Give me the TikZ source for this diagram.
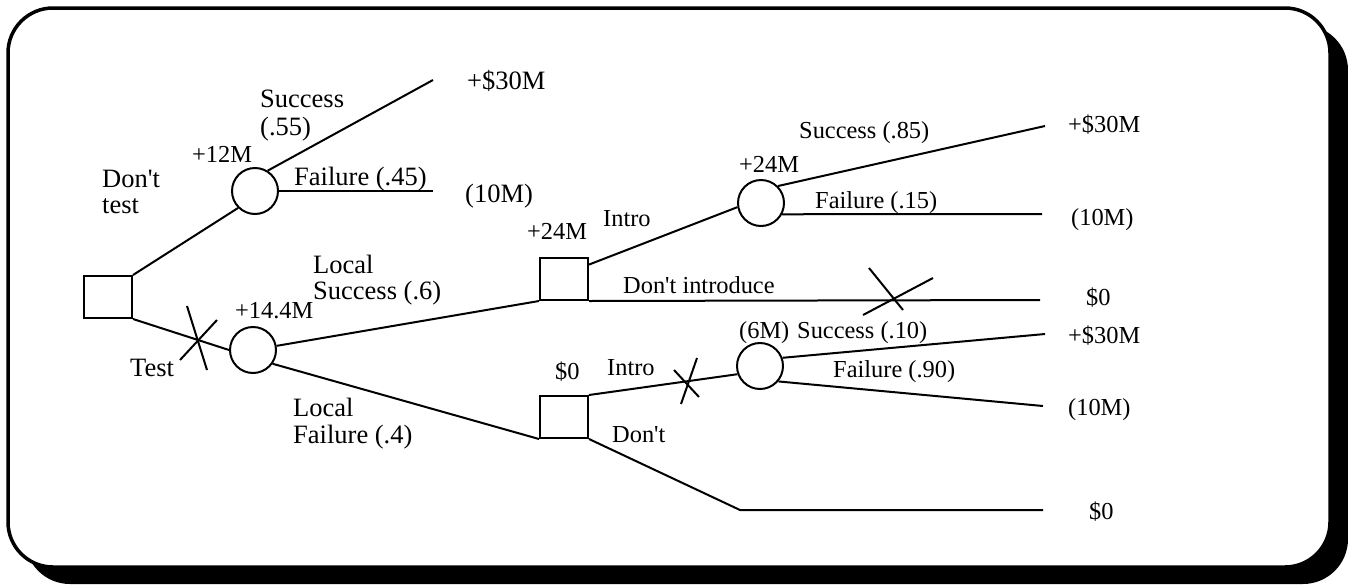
\documentclass[tikz,border=0pt]{standalone}
\usepackage{fontspec}
\setmainfont{Liberation Serif}
\newcommand{\apos}{\textquotesingle}
\begin{document}
\begin{tikzpicture}[x=1pt,y=-1pt,
  decision/.style={draw, rectangle, minimum width=48pt, minimum height=42pt, inner sep=0pt, line width=2pt},
  chance/.style={draw, circle, minimum size=46pt, inner sep=0pt, line width=2pt},
  lblL/.style={anchor=base west, inner sep=0pt, font=\fontsize{26.5}{30}\selectfont},
  lblS/.style={anchor=base west, inner sep=0pt, font=\fontsize{24.4}{28}\selectfont},
  branch/.style={line width=2pt},
  cross/.style={line width=2pt},
  frame/.style={line width=3.5pt, draw=black, fill=white, rounded corners=45pt},
  shadowbox/.style={fill=black, rounded corners=45pt}]
\useasboundingbox (0,0) rectangle (1348,584);
% frame with shadow
\fill[shadowbox] (25,25) rectangle (1348,584);
\draw[frame] (8,8) rectangle (1330,567);

% decision and chance nodes
\node[decision] (d1) at (108,297) {};
\node[chance] (c1) at (255,191) {};
\node[chance] (c2) at (253,350) {};
\node[decision] (d2) at (564,279) {};
\node[decision] (d3) at (564,417) {};
\node[chance] (c3) at (761,203) {};
\node[chance] (c4) at (760,366) {};

% end points
\coordinate (e1) at (433,80);
\coordinate (e2) at (433,191);
\coordinate (e3) at (1045,126);
\coordinate (e4) at (1042,214);
\coordinate (e5) at (1040,300);
\coordinate (e6) at (1045,334);
\coordinate (e7) at (1043,406);
\coordinate (k1) at (740,510);
\coordinate (e8) at (1043,510);

% branches
\draw[branch] (d1.north east) -- (c1.225);
\draw[branch] (c1.58) -- (e1);
\draw[branch] (c1.east) -- (e2);
\draw[branch] (d1.south east) -- (c2.180);
\draw[branch] (c2.10) -- (d2.south west);
\draw[branch] (c2.-35) -- (d3.south west);
\draw[branch] (d2.30) -- (c3.190);
\draw[branch] (c3.45) -- (e3);
\draw[branch] (c3.-28) -- (e4);
\draw[branch] (d2.south east) -- (e5);
\draw[branch] (d3.north east) -- (c4.200);
\draw[branch] (c4.20) -- (e6);
\draw[branch] (c4.-40) -- (e7);
\draw[branch] (d3.south east) -- (k1) -- (e8);

% crosses (pruned branches)
\coordinate (x1) at (199,342);
\draw[cross] ([shift={(-12,-36)}]x1) -- ([shift={(8,28)}]x1);
\draw[cross] ([shift={(-19,18)}]x1) -- ([shift={(18,-22)}]x1);
\coordinate (x2) at (893,298);
\draw[cross] ([shift={(-24,-30)}]x2) -- ([shift={(10,12)}]x2);
\draw[cross] ([shift={(-30,17)}]x2) -- ([shift={(40,-20)}]x2);
\coordinate (x3) at (688,383);
\draw[cross] ([shift={(9,-25)}]x3) -- ([shift={(-7,21)}]x3);
\draw[cross] ([shift={(-14,-13)}]x3) -- ([shift={(11,14)}]x3);

% labels, left part
\node[lblL] (t1) at (260,107) {Success};
\node[lblL] (t2) at (260,135) {(.55)};
\node[lblS] (t3) at (192,162) {+12M};
\node[lblL] (t4) at (102,187) {Don\apos t};
\node[lblL] (t5) at (102,213) {test};
\node[lblL] (t6) at (294,185) {Failure (.45)};
\node[lblL] (t7) at (467,89) {+\$30M};
\node[lblL] (t8) at (465,202) {(10M)};
\node[lblL] (t9) at (313,273) {Local};
\node[lblL] (t10) at (313,299) {Success (.6)};
\node[lblS] (t11) at (235,318) {+14.4M};
\node[lblL] (t12) at (130,376) {Test};
\node[lblL] (t13) at (293,416) {Local};
\node[lblL] (t14) at (293,443) {Failure (.4)};

% labels, middle part
\node[lblS] (t15) at (527,239) {+24M};
\node[lblS] (t16) at (603,226) {Intro};
\node[lblS] (t17) at (739,172) {+24M};
\node[lblS] (t18) at (799,138) {Success (.85)};
\node[lblS] (t19) at (815,208) {Failure (.15)};
\node[lblS] (t20) at (623,293) {Don\apos t introduce};
\node[lblS] (t21) at (739,338) {(6M)};
\node[lblS] (t22) at (797,338) {Success (.10)};
\node[lblS] (t23) at (555,379) {\$0};
\node[lblS] (t24) at (607,375) {Intro};
\node[lblS] (t25) at (833,377) {Failure (.90)};
\node[lblS] (t26) at (612,442) {Don\apos t};

% labels, right part
\node[lblS] (r1) at (1068,132) {+\$30M};
\node[lblS] (r2) at (1071,225) {(10M)};
\node[lblS] (r3) at (1086,305) {\$0};
\node[lblS] (r4) at (1068,343) {+\$30M};
\node[lblS] (r5) at (1068,415) {(10M)};
\node[lblS] (r6) at (1089,519) {\$0};
\end{tikzpicture}
\end{document}
